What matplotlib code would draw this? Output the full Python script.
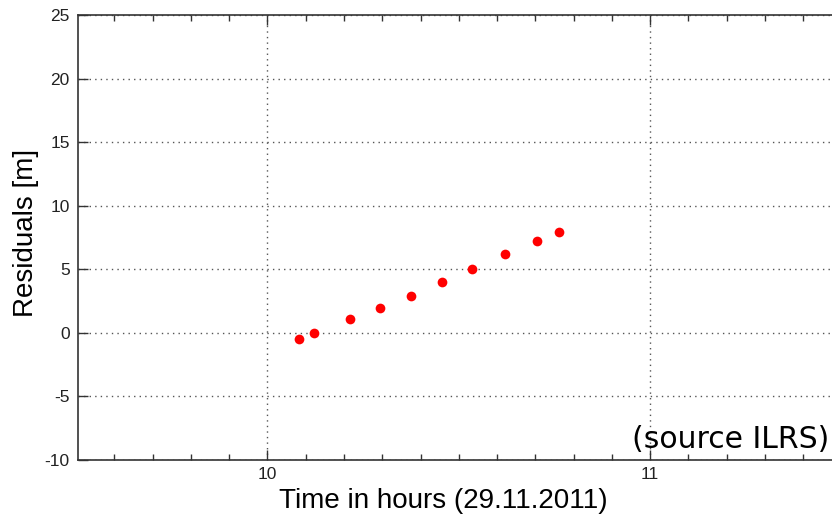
import matplotlib
matplotlib.use("Agg")
import matplotlib.pyplot as plt
from matplotlib.ticker import MultipleLocator

plt.rcParams['axes.unicode_minus'] = False

time_h = [10.083, 10.121, 10.217, 10.293, 10.374, 10.455, 10.534, 10.622, 10.705, 10.762]
residuals_m = [-0.45, 0.0, 1.06, 1.94, 2.92, 4.02, 5.0, 6.2, 7.19, 7.96]
x_ticks = [10, 11]
y_ticks = [-10, -5, 0, 5, 10, 15, 20, 25]

fig = plt.figure(figsize=(8.32, 5.18), dpi=100)
W, H = 832, 518
left, right, top, bottom = 78, 841.5, 15, 460
ax = fig.add_axes([left / W, 1 - bottom / H, (right - left) / W, (bottom - top) / H])

ax.plot(time_h, residuals_m, 'o', color='red', markersize=7, markeredgewidth=0)

ax.set_xlim(9.505, 11.5)
ax.set_ylim(-10, 25)
ax.set_xticks(x_ticks)
ax.set_yticks(y_ticks)
ax.xaxis.set_minor_locator(MultipleLocator(0.1))
ax.grid(True, which='major', linestyle=(0, (1, 3)), color='#555555', linewidth=1.0)

ax.tick_params(which='both', direction='in', top=True, right=True, colors='#333333',
               labelcolor='#222222', labelsize=12.5)
ax.tick_params(which='major', length=7, width=1)
ax.tick_params(which='minor', length=4, width=1)
for lab in ax.get_xticklabels() + ax.get_yticklabels():
    lab.set_family('Liberation Sans')
ax.tick_params(axis='x', pad=5)
ax.tick_params(axis='y', pad=6)

for s in ax.spines.values():
    s.set_color('#333333')
    s.set_linewidth(1.2)

ax.set_xlabel('Time in hours (29.11.2011)', family='Liberation Sans', fontsize=20)
ax.set_ylabel('Residuals [m]', family='Liberation Sans', fontsize=20)
ax.xaxis.set_label_coords(0.479, -0.064)
ax.yaxis.set_label_coords(-0.051, 0.51)

fig.text(829 / W, 1 - 439 / H, '(source ILRS)', family='DejaVu Sans', fontsize=21.5,
         ha='right', va='center', color='black')

fig.savefig('out.png', dpi=100)
